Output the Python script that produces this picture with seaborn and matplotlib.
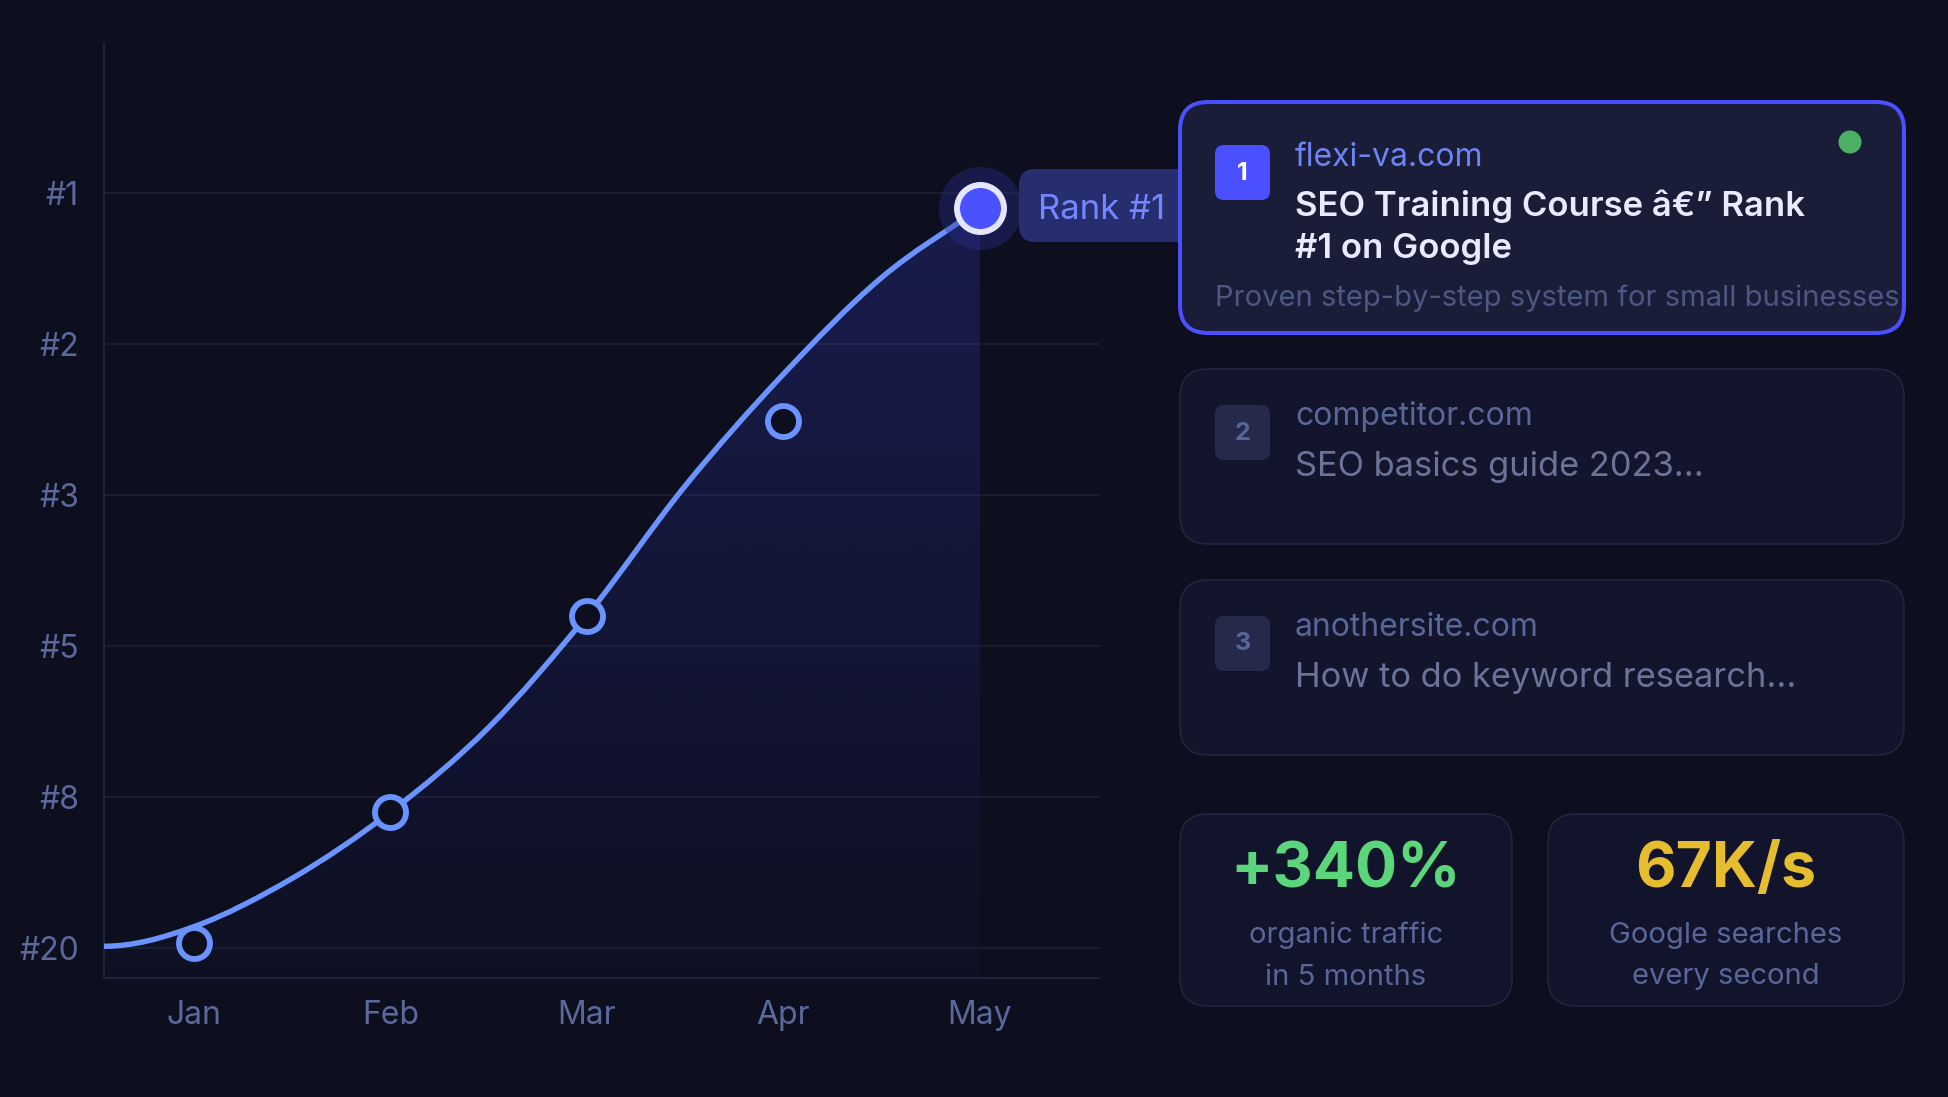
import numpy as np
import matplotlib
matplotlib.use("Agg")
import matplotlib.pyplot as plt
import matplotlib.transforms as mtransforms
from matplotlib.patches import FancyBboxPatch, Circle, PathPatch
from matplotlib.path import Path
from matplotlib.colors import to_rgb
import seaborn as sns

W, H = 1949, 1097

# --- chart data -------------------------------------------------------------
months = ["Jan", "Feb", "Mar", "Apr", "May"]
rank_labels = ["#1", "#2", "#3", "#5", "#8", "#20"]
# marker positions on the rank axis (0 = #1 ... 5 = #20)
rank_pos = [4.97, 4.10, 2.80, 1.51, 0.10]
# nodes of the smooth trend line
trend_x = [-0.46, 0.00, 0.50, 1.00, 1.50, 2.00, 2.50, 3.00, 3.50, 4.00]
trend_y = [4.99, 4.86, 4.54, 4.10, 3.54, 2.80, 1.94, 1.20, 0.56, 0.10]
peak_label = "Rank #1"

# --- side panel data --------------------------------------------------------
serp_rank = ["1", "2", "3"]
serp_domain = ["flexi-va.com", "competitor.com", "anothersite.com"]
serp_title = ["SEO Training Course \u00e2\u20ac\u201d Rank\n#1 on Google",
              "SEO basics guide 2023...",
              "How to do keyword research..."]
serp_desc = "Proven step-by-step system for small businesses"
stat_values = ["+340%", "67K/s"]
stat_captions = ["organic traffic\nin 5 months", "Google searches\nevery second"]

# --- colours ----------------------------------------------------------------
BG = "#0d0f1f"
GRID = "#1d2035"
SPINE = "#252a40"
TICK = "#5a699b"
LINE = "#6a93ff"
FILL = "#3d44d8"
ACCENT = "#4a50ff"
MUTED = "#58669a"

sns.set_theme(style="dark", rc={"axes.facecolor": BG, "figure.facecolor": BG})
plt.rcParams["font.family"] = ["Inter", "DejaVu Sans"]

fig = plt.figure(figsize=(W / 100, H / 100), dpi=100, facecolor=BG)
# reference-pixel coordinates, origin top-left
PX = mtransforms.Affine2D().scale(1 / W, -1 / H).translate(0, 1) + fig.transFigure

ax = fig.add_axes([104 / W, 1 - 978 / H, (1100 - 104) / W, (978 - 43) / H])
ax.set_facecolor(BG)
Y_FLOOR = 5.2


def smooth_path(xs, ys):
    # cubic bezier segments through the traced nodes (Catmull-Rom tangents,
    # flat start like the original)
    pts = np.column_stack([xs, ys])
    tang = np.zeros_like(pts)
    tang[1:-1] = (pts[2:] - pts[:-2]) / 2
    tang[0] = [pts[1, 0] - pts[0, 0], 0.0]
    tang[-1] = pts[-1] - pts[-2]
    verts, codes = [pts[0]], [Path.MOVETO]
    for i in range(len(pts) - 1):
        verts += [pts[i] + tang[i] / 3, pts[i + 1] - tang[i + 1] / 3, pts[i + 1]]
        codes += [Path.CURVE4] * 3
    return verts, codes


verts, codes = smooth_path(trend_x, trend_y)

# gradient area under the trend
area = Path(verts + [(trend_x[-1], Y_FLOOR), (trend_x[0], Y_FLOOR), (trend_x[0], Y_FLOOR)],
            codes + [Path.LINETO, Path.LINETO, Path.CLOSEPOLY])
grad = np.zeros((256, 1, 4))
grad[..., :3] = to_rgb(FILL)
grad[..., 3] = np.linspace(0.25, 0.02, 256)[:, None]
img = ax.imshow(grad, extent=[trend_x[0], trend_x[-1], Y_FLOOR, min(trend_y)],
                origin="upper", aspect="auto", zorder=1, interpolation="bilinear")
img.set_clip_path(area, transform=ax.transData)

ax.add_patch(PathPatch(Path(verts, codes), fc="none", ec=LINE, lw=3.9,
                       capstyle="round", zorder=3))

sns.scatterplot(x=list(range(4)), y=rank_pos[:4], s=500, color=BG,
                edgecolor=LINE, linewidth=4.2, ax=ax, zorder=4)
# highlighted final point with halo
sns.scatterplot(x=[4], y=[rank_pos[4]], s=3575, color="#2b3190", alpha=0.38,
                linewidth=0, ax=ax, zorder=4)
sns.scatterplot(x=[4], y=[rank_pos[4]], s=1145, color="#4a52ff",
                edgecolor="#e4e6ff", linewidth=4.3, ax=ax, zorder=5)

ax.set_xticks(range(len(months)), months)
ax.set_yticks(range(len(rank_labels)), rank_labels)
ax.set_xlim(-0.458, 4.611)
ax.set_ylim(Y_FLOOR, -0.993)
ax.tick_params(axis="both", length=0, colors=TICK, labelsize=23)
ax.tick_params(axis="y", pad=18)
ax.tick_params(axis="x", pad=16)
ax.grid(axis="y", color=GRID, lw=1.1)
ax.grid(axis="x", visible=False)
for side in ["top", "right"]:
    ax.spines[side].set_visible(False)
for side in ["left", "bottom"]:
    ax.spines[side].set_visible(True)
    ax.spines[side].set_color(SPINE)
    ax.spines[side].set_linewidth(1.1)
ax.set_xlabel("")
ax.set_ylabel("")


def box(x0, y0, x1, y1, fc, ec="none", lw=0, r=28, z=2):
    fig.add_artist(FancyBboxPatch((x0 + r, y0 + r), x1 - x0 - 2 * r, y1 - y0 - 2 * r,
                                  boxstyle=f"round,pad={r}", transform=PX,
                                  fc=fc, ec=ec, lw=lw, zorder=z))


def label(x, y, s, size, color, weight="normal", ha="left", z=3, ls=1.2):
    fig.text(x, y, s, transform=PX, ha=ha, va="center", fontsize=size,
             color=color, fontweight=weight, zorder=z, linespacing=ls)


# peak tag (partly hidden behind the first card)
box(1019, 169, 1220, 242, "#272e6f", r=16, z=1.5)
label(1038, 210, peak_label, 25, "#7388ff", z=1.6)

# SERP cards
card_y = [(102, 333), (369, 544), (580, 755)]
for i, (y0, y1) in enumerate(card_y):
    top = i == 0
    box(1180, y0, 1904, y1, "#1a1d38" if top else "#12152b",
        ec=ACCENT if top else "#22263f", lw=2.9 if top else 1.1, r=28, z=2)
    by = y0 + (43 if top else 36)
    box(1215, by, 1270, by + 55, ACCENT if top else "#252a4a", r=9, z=2.5)
    label(1242.5, by + 28, serp_rank[i], 18, "white" if top else MUTED,
          weight="bold", ha="center")
    label(1295, y0 + 55 if top else y0 + 48, serp_domain[i], 23,
          "#6e84f5" if top else MUTED)
    if top:
        label(1295, y0 + 125, serp_title[i], 25, "#e8eaff", weight="semibold", ls=1.4)
    else:
        label(1295, y0 + 98, serp_title[i], 24.8, "#6b7498")
label(1215, 298, serp_desc, 21, "#4c5783")
fig.add_artist(Circle((1850, 142), 11.5, transform=PX, fc="#4caf64", ec="none", zorder=3))

# stat cards
stat_x = [(1180, 1512), (1548, 1904)]
stat_colors = ["#5cd67a", "#e6bd2e"]
for (x0, x1), val, cap, col in zip(stat_x, stat_values, stat_captions, stat_colors):
    box(x0, 814, x1, 1006, "#11142a", ec="#22263f", lw=1.1, r=28, z=2)
    cx = (x0 + x1) / 2
    label(cx, 871, val, 45, col, weight="bold", ha="center")
    label(cx, 956, cap, 21, MUTED, ha="center", ls=1.7)

fig.savefig("out.png", dpi=100, facecolor=BG)
